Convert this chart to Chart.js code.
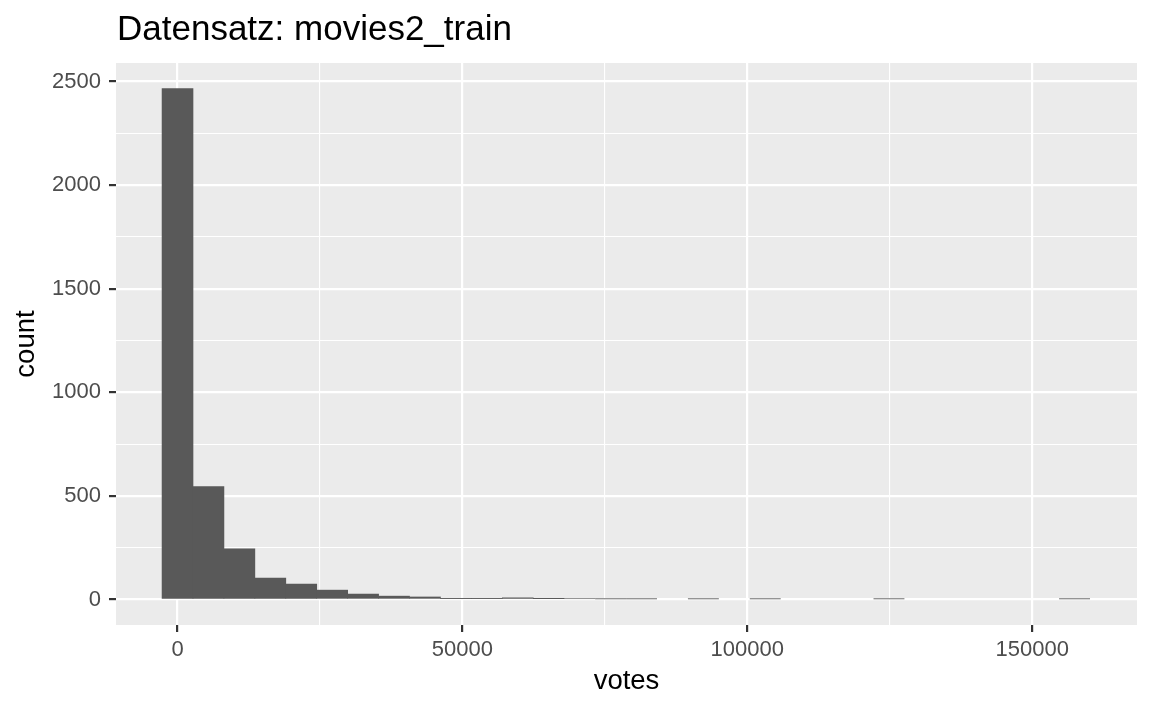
<!DOCTYPE html>
<html lang="de">
<head>
    <meta charset="UTF-8">
    <title>Datensatz: movies2_train</title>
    <script src="https://cdn.jsdelivr.net/npm/chart.js"></script>
    <style>
        html, body { margin: 0; padding: 0; background: #ffffff; }
        #wrap { width: 1152px; height: 711px; position: relative; }
    </style>
</head>
<body>
    <div id="wrap"><canvas id="histChart"></canvas></div>

    <script>
        // histogram of votes, 30 bins (ggplot default), bin centred on 0
        const binWidth = 5429;
        const binCounts = [2466, 545, 244, 103, 74, 45, 26, 16, 12, 4, 4, 8, 4,
                           2, 1, 1, 0, 1, 0, 1, 0, 0, 0, 1, 0, 0, 0, 0, 0, 1];
        const xMajorTicks = [0, 50000, 100000, 150000];
        const xMinorTicks = [25000, 75000, 125000];
        const yMajorTicks = [0, 500, 1000, 1500, 2000, 2500];
        const yMinorTicks = [250, 750, 1250, 1750, 2250];

        const points = binCounts.map((c, i) => ({ x: i * binWidth, y: c }));

        const FONT = "'Liberation Sans', Arial, Helvetica, sans-serif";

        // grey panel + left-aligned title like ggplot
        const panelPlugin = {
            id: 'panel',
            beforeDraw(chart) {
                const { ctx, chartArea: a } = chart;
                ctx.save();
                ctx.fillStyle = '#EBEBEB';
                ctx.fillRect(a.left, a.top, a.right - a.left, a.bottom - a.top);
                ctx.restore();
            },
            afterDraw(chart) {
                const { ctx, chartArea: a } = chart;
                ctx.save();
                ctx.fillStyle = '#000000';
                ctx.font = '35px ' + FONT;
                ctx.textAlign = 'left';
                ctx.textBaseline = 'alphabetic';
                ctx.fillText('Datensatz: movies2_train', a.left + 1, 40);
                ctx.restore();
            }
        };

        function tickSet(major, minor) {
            return scale => {
                scale.ticks = major.concat(minor).sort((a, b) => a - b).map(v => ({ value: v }));
            };
        }

        const isMajor = (list, c) => !!(c.tick && list.includes(c.tick.value));

        new Chart(document.getElementById('histChart').getContext('2d'), {
            type: 'bar',
            data: {
                datasets: [{
                    label: 'count',
                    data: points,
                    backgroundColor: '#595959',
                    borderWidth: 0,
                    // no anti-gap inflation on the near-empty bins, they are sub-pixel in ggplot
                    inflateAmount: c => (c.raw && c.raw.y >= 3) ? 0.33 : 0,
                    barPercentage: 1.0,
                    categoryPercentage: 1.0
                }]
            },
            options: {
                responsive: true,
                maintainAspectRatio: false,
                animation: false,
                layout: { padding: { top: 63, right: 15, left: 0, bottom: 0 } },
                plugins: {
                    legend: { display: false },
                    tooltip: { enabled: false }
                },
                scales: {
                    x: {
                        type: 'linear',
                        offset: false,
                        min: -10800,
                        max: 168400,
                        afterBuildTicks: tickSet(xMajorTicks, xMinorTicks),
                        afterFit: s => { s.height = 86; },
                        border: { display: false },
                        grid: {
                            offset: false,
                            color: '#FFFFFF',
                            lineWidth: c => isMajor(xMajorTicks, c) ? 2.2 : 1.1,
                            tickColor: c => isMajor(xMajorTicks, c) ? '#333333' : 'rgba(0,0,0,0)',
                            tickWidth: 2.2,
                            tickLength: 7
                        },
                        ticks: {
                            autoSkip: false,
                            maxRotation: 0,
                            padding: 5,
                            color: '#4D4D4D',
                            font: { family: FONT, size: 22 },
                            callback: v => xMajorTicks.includes(v) ? String(v) : ''
                        },
                        title: {
                            display: true,
                            text: 'votes',
                            color: '#000000',
                            font: { family: FONT, size: 27.5 },
                            padding: { top: 0, bottom: 13 }
                        }
                    },
                    y: {
                        min: -123.3,
                        max: 2589.3,
                        afterBuildTicks: tickSet(yMajorTicks, yMinorTicks),
                        afterFit: s => { s.width = 116; },
                        border: { display: false },
                        grid: {
                            color: '#FFFFFF',
                            lineWidth: c => isMajor(yMajorTicks, c) ? 2.2 : 1.1,
                            tickColor: c => isMajor(yMajorTicks, c) ? '#333333' : 'rgba(0,0,0,0)',
                            tickWidth: 2.2,
                            tickLength: 7
                        },
                        ticks: {
                            autoSkip: false,
                            padding: 8,
                            color: '#4D4D4D',
                            font: { family: FONT, size: 22 },
                            callback: v => yMajorTicks.includes(v) ? String(v) : ''
                        },
                        title: {
                            display: true,
                            text: 'count',
                            color: '#000000',
                            font: { family: FONT, size: 27.5 },
                            padding: { top: 10, bottom: 0 }
                        }
                    }
                }
            },
            plugins: [panelPlugin]
        });
    </script>
</body>
</html>
